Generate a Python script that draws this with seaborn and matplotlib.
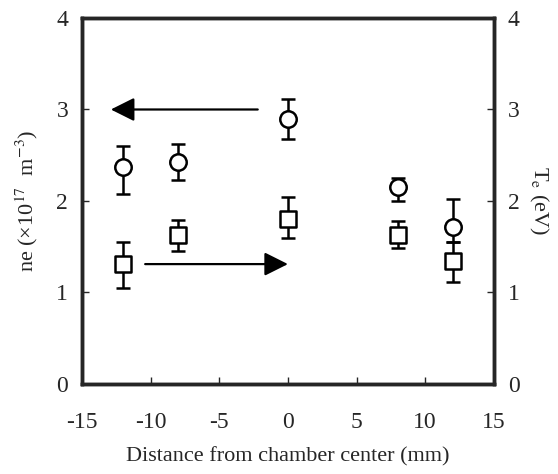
import matplotlib
matplotlib.use("Agg")
import matplotlib.pyplot as plt
import seaborn as sns
import numpy as np
import pandas as pd

# Data
positions = [-12, -8, 0, 8, 12]
ne_vals = [2.37, 2.43, 2.90, 2.15, 1.72]
ne_low = [2.08, 2.23, 2.68, 2.00, 1.55]
ne_high = [2.60, 2.62, 3.12, 2.25, 2.02]
te_vals = [1.31, 1.63, 1.80, 1.63, 1.34]
te_low = [1.05, 1.45, 1.59, 1.49, 1.11]
te_high = [1.55, 1.79, 2.04, 1.78, 1.55]
x_ticks = [-15, -10, -5, 0, 5, 10, 15]
y_ticks = [0, 1, 2, 3, 4]

sns.set_style("ticks")
plt.rcParams['font.family'] = ['Liberation Serif', 'DejaVu Serif']
plt.rcParams['mathtext.fontset'] = 'stix'

fig = plt.figure(figsize=(5.58, 4.74), dpi=100)
ax = fig.add_axes([0.147, 0.19, 0.738, 0.772])
ax2 = ax.twinx()

df = pd.DataFrame({"x": positions, "ne": ne_vals, "te": te_vals})

ne_err = [np.array(ne_vals) - np.array(ne_low), np.array(ne_high) - np.array(ne_vals)]
te_err = [np.array(te_vals) - np.array(te_low), np.array(te_high) - np.array(te_vals)]

ax.errorbar(positions, ne_vals, yerr=ne_err, fmt='none', ecolor='black',
            elinewidth=1.8, capsize=5, capthick=1.8, zorder=2)
sns.scatterplot(data=df, x="x", y="ne", ax=ax, marker='o', s=140,
                facecolor='white', edgecolor='black', linewidth=1.8, zorder=3)

ax2.errorbar(positions, te_vals, yerr=te_err, fmt='none', ecolor='black',
             elinewidth=1.8, capsize=5, capthick=1.8, zorder=2)
sns.scatterplot(data=df, x="x", y="te", ax=ax2, marker='s', s=140,
                facecolor='white', edgecolor='black', linewidth=1.8, zorder=3)

# arrows
ax.annotate("", xy=(-12.9, 3.0), xytext=(-2.2, 3.0),
            arrowprops=dict(arrowstyle='-|>', color='black', lw=1.6,
                            mutation_scale=36, shrinkA=0, shrinkB=0))
ax2.annotate("", xy=(0.0, 1.31), xytext=(-10.4, 1.31),
             arrowprops=dict(arrowstyle='-|>', color='black', lw=1.6,
                             mutation_scale=36, shrinkA=0, shrinkB=0))

for a in (ax, ax2):
    a.set_xlim(-15, 15)
    a.set_ylim(0, 4)
    a.set_yticks(y_ticks)
    for s in a.spines.values():
        s.set_linewidth(2.5)
        s.set_visible(True)
    a.tick_params(direction='in', length=5, width=1, labelsize=17, pad=10)

ax.set_xticks(x_ticks)
ax.set_xticklabels([str(t) for t in x_ticks])
ax.tick_params(axis='x', pad=20)
ax.set_xlabel("Distance from chamber center (mm)", fontsize=16, labelpad=10)
ax.set_ylabel(r"ne (×10$^{17}$  m$^{-3}$)", fontsize=16, labelpad=12)
ax2.set_ylabel(r"T$_{\rm e}$ (eV)", fontsize=16, rotation=270, labelpad=22)

fig.savefig("out.png", dpi=100)
